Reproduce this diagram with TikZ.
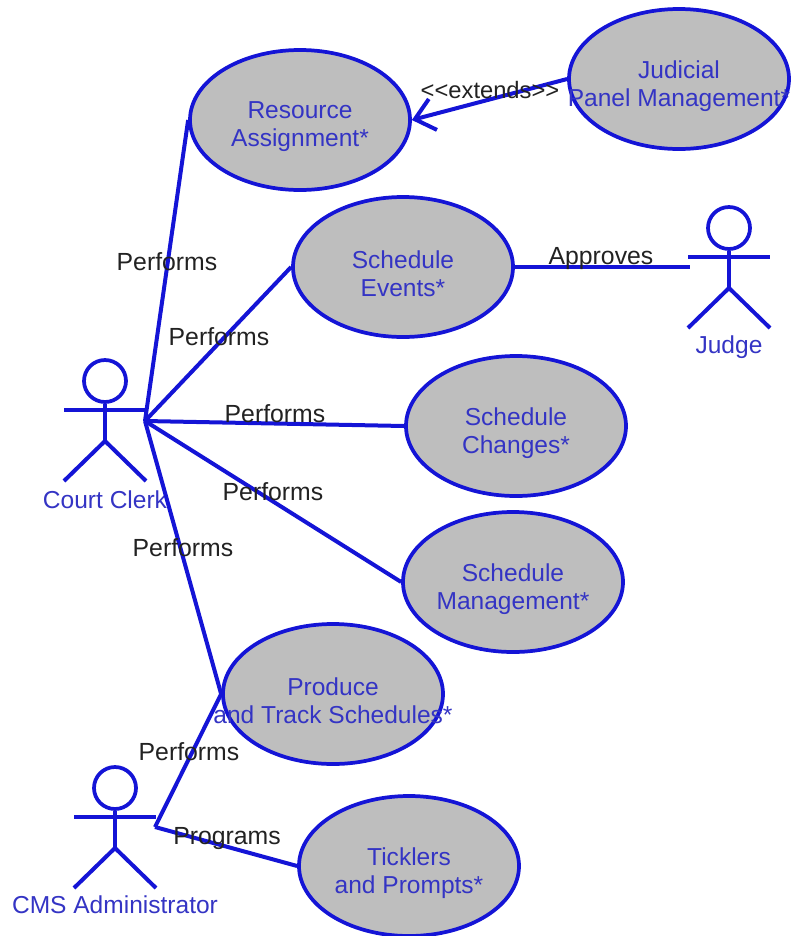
\documentclass[tikz,border=0pt]{standalone}
\usepackage{fontspec}
\setmainfont{Liberation Sans}
\usetikzlibrary{shapes.geometric,arrows.meta}
\definecolor{umlblue}{HTML}{1414D6}
\definecolor{umltext}{HTML}{3434C4}
\definecolor{umlgray}{HTML}{BEBEBE}
\definecolor{lbl}{HTML}{222222}
\newcommand{\usecasenode}[5][0]{%
  \node[usecase] (#2) at (#3) {};
  \node[uctext] (#2t) at ([yshift=-7*0.75pt]#2.center) {#4\\\hspace*{#1pt}#5};
}
\newcommand{\actorfig}[5]{%
  % name, x, y (head centre), label, label y offset
  \node[actorhead] (#1head) at (#2,#3) {};
  \coordinate (#1neck) at (#2,#3+29);
  \coordinate (#1armL) at (#2-41,#3+29);
  \coordinate (#1armR) at (#2+41,#3+29);
  \coordinate (#1hip) at (#2,#3+60);
  \coordinate (#1legL) at (#2-41,#3+100);
  \coordinate (#1legR) at (#2+41,#3+100);
  \draw[umlline] (#1head.south) -- (#1hip);
  \draw[umlline] (#1armL) -- (#1armR);
  \draw[umlline] (#1legL) -- (#1hip) -- (#1legR);
  \node[actortext] (#1label) at (#2,#3+#5) {#4};
}
\tikzset{
  umlline/.style={draw=umlblue,line width=3pt},
  usecase/.style={ellipse,draw=umlblue,fill=umlgray,line width=2.8pt,minimum width=165pt,minimum height=105pt,inner sep=0pt},
  uctext/.style={text=umltext,font=\fontsize{18.4}{21}\selectfont,align=center,inner sep=0pt},
  actorhead/.style={circle,draw=umlblue,fill=white,line width=2.8pt,minimum size=31.5pt,inner sep=0pt},
  actortext/.style={text=umltext,font=\fontsize{18.4}{21}\selectfont,inner sep=0pt},
  edgelabel/.style={text=lbl,font=\fontsize{18.6}{21}\selectfont,inner sep=0pt},
}
\begin{document}
\begin{tikzpicture}[x=0.75pt,y=-0.75pt]
\useasboundingbox (0,0) rectangle (791,936);
\usecasenode{res}{300,120}{Resource}{Assignment*}
\usecasenode{jud}{679,79}{Judicial}{Panel Management*}
\usecasenode{evt}{403,267}{Schedule}{Events*}
\usecasenode{chg}{516,426}{Schedule}{Changes*}
\usecasenode{mgt}{513,582}{Schedule}{Management*}
\usecasenode{prd}{333,694}{Produce}{and Track Schedules*}
\usecasenode{tik}{409,866}{Ticklers}{and Prompts*}
\actorfig{clerk}{105}{381}{Court Clerk}{119}
\actorfig{judge}{729}{228}{Judge}{119}
\actorfig{cms}{115}{788}{CMS Administrator}{117}
\coordinate (clerkhub) at (145,421);
\coordinate (cmshub) at (155,827);
\coordinate (judgehub) at (690,267);
\draw[umlline] (clerkhub) -- (res.west);
\draw[umlline] (clerkhub) -- (evt.west);
\draw[umlline] (clerkhub) -- (chg.west);
\draw[umlline] (clerkhub) -- (mgt.west);
\draw[umlline] (clerkhub) -- (prd.west);
\draw[umlline] (cmshub) -- (prd.west);
\draw[umlline] (cmshub) -- (tik.west);
\draw[umlline] (evt.east) -- (judgehub);
\draw[umlline,-{Straight Barb[length=14pt,width=24pt,line width=3pt]}] (jud.west) -- (res.east);
\node[edgelabel] (l1) at (167,262) {Performs};
\node[edgelabel] (l2) at (219,337) {Performs};
\node[edgelabel] (l3) at (275,414) {Performs};
\node[edgelabel] (l4) at (273,492) {Performs};
\node[edgelabel] (l5) at (183,548) {Performs};
\node[edgelabel] (l6) at (189,752) {Performs};
\node[edgelabel] (l7) at (227,839) {Programs};
\node[edgelabel] (l8) at (601,259) {Approves};
\node[edgelabel,font=\fontsize{17.8}{21}\selectfont] (l9) at (490,90) {{<}{<}extends{>}{>}};
\end{tikzpicture}
\end{document}
